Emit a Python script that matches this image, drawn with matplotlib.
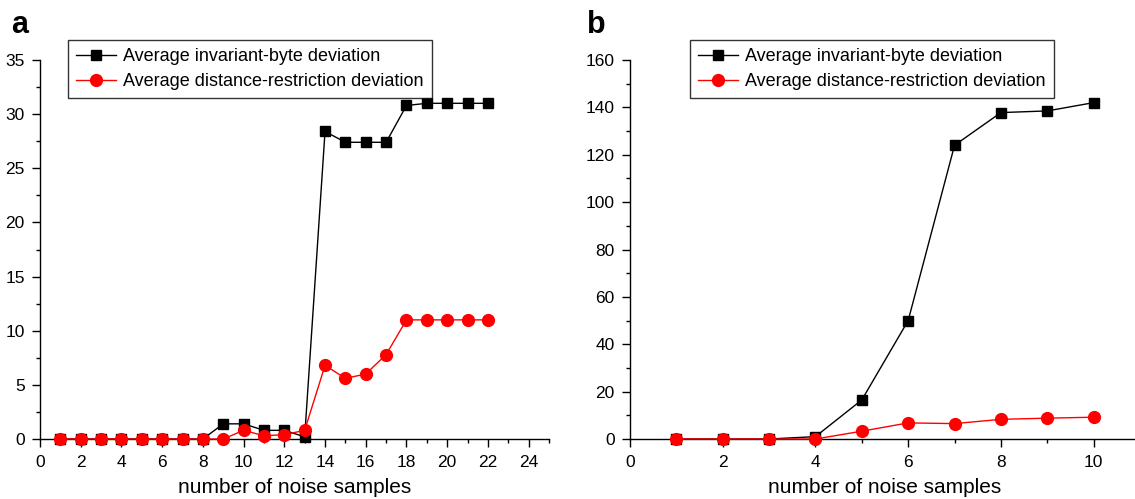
import matplotlib
matplotlib.use("Agg")
import matplotlib.pyplot as plt
from matplotlib.ticker import MultipleLocator

plt.rcParams['font.family'] = ['Liberation Sans', 'DejaVu Sans']

# Panel a data
xa = [1, 2, 3, 4, 5, 6, 7, 8, 9, 10, 11, 12, 13, 14, 15, 16, 17, 18, 19, 20, 21, 22]
a_invariant = [0, 0, 0, 0, 0, 0, 0, 0, 1.4, 1.4, 0.8, 0.8, 0.2, 28.4, 27.4, 27.4, 27.4, 30.8, 31, 31, 31, 31]
a_distance = [0, 0, 0, 0, 0, 0, 0, 0, 0, 0.8, 0.3, 0.4, 0.8, 6.8, 5.6, 6.0, 7.8, 11, 11, 11, 11, 11]

# Panel b data
xb = [1, 2, 3, 4, 5, 6, 7, 8, 9, 10]
b_invariant = [0, 0, 0, 1, 16.5, 50, 124, 137.8, 138.5, 142]
b_distance = [0, 0, 0, 0, 3.3, 6.8, 6.5, 8.3, 8.8, 9.2]

labels = ["Average invariant-byte deviation", "Average distance-restriction deviation"]
xlabel = "number of noise samples"

W, H = 1135, 499
fig = plt.figure(figsize=(W / 100, H / 100), dpi=100)

def fx(px):
    return px / W

def fy(py):
    return 1 - py / H

ax_a = fig.add_axes([fx(40), fy(439), fx(549 - 40), (439 - 60) / H])
ax_b = fig.add_axes([fx(630), fy(439), fx(1140 - 630), (439 - 60) / H])

def style(ax, xlim, ylim, xmaj, xmin, ymaj, ymin):
    ax.set_xlim(*xlim)
    ax.set_ylim(*ylim)
    ax.spines['top'].set_visible(False)
    ax.spines['right'].set_visible(False)
    for s in ('left', 'bottom'):
        ax.spines[s].set_linewidth(1.0)
    ax.xaxis.set_major_locator(MultipleLocator(xmaj))
    ax.xaxis.set_minor_locator(MultipleLocator(xmin))
    ax.yaxis.set_major_locator(MultipleLocator(ymaj))
    ax.yaxis.set_minor_locator(MultipleLocator(ymin))
    ax.tick_params(which='major', direction='out', length=5.5, width=1, labelsize=12.5)
    ax.tick_params(axis='x', which='major', pad=6)
    ax.tick_params(axis='y', which='major', pad=5.5)
    ax.tick_params(which='minor', direction='out', length=3, width=1)
    ax.set_xlabel(xlabel, fontsize=15, labelpad=6)
    for sp in ax.spines.values():
        sp.set_clip_on(False)

def draw(ax, x, y1, y2):
    l1, = ax.plot(x, y1, color='black', lw=1, marker='s', ms=7.5, clip_on=False, zorder=3)
    l2, = ax.plot(x, y2, color='red', lw=1, marker='o', ms=8.5, clip_on=False, zorder=4)
    return l1, l2

h = draw(ax_a, xa, a_invariant, a_distance)
style(ax_a, (0, 25), (0, 35), 2, 1, 5, 2.5)
draw(ax_b, xb, b_invariant, b_distance)
style(ax_b, (0, 11), (0, 160), 2, 1, 20, 10)

for px, ax in ((68, ax_a), (690, ax_b)):
    leg = fig.legend(h, labels, loc='upper left', bbox_to_anchor=(fx(px), fy(40)),
                     fontsize=13, frameon=True, fancybox=False, edgecolor='black',
                     borderpad=0.45, labelspacing=0.45, handlelength=2.2, handletextpad=0.4,
                     borderaxespad=0)
    leg.get_frame().set_linewidth(1.0)

fig.text(fx(11), fy(33), 'a', fontsize=22, fontweight='bold')
fig.text(fx(587), fy(33), 'b', fontsize=22, fontweight='bold')

fig.savefig('out.png', dpi=100)
